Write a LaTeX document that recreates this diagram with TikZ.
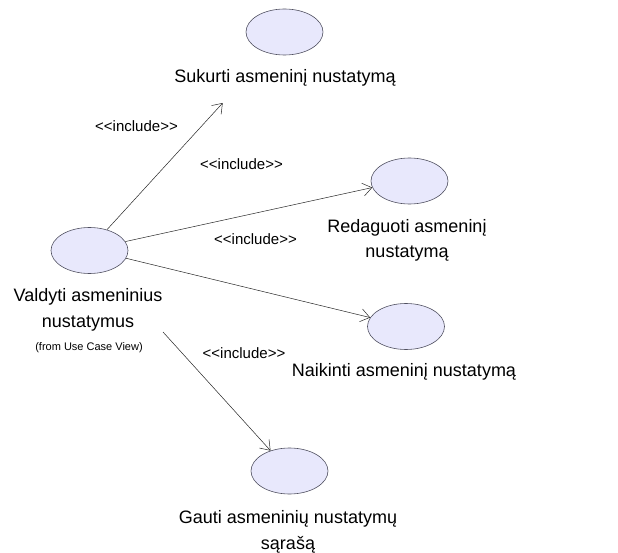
\documentclass[tikz,border=0pt]{standalone}
\usepackage{fontspec}
\setmainfont{Liberation Sans}
\usetikzlibrary{arrows.meta,shapes.geometric}
\definecolor{ucfill}{RGB}{232,232,252}
\definecolor{ucline}{RGB}{80,80,96}
\newcommand{\incl}{<\kern0pt<include>\kern0pt>}
\begin{document}
\begin{tikzpicture}[x=1pt,y=-1pt,
  usecase/.style={ellipse, draw=ucline, fill=ucfill, line width=0.6pt, minimum width=77pt, minimum height=46pt, inner sep=0pt},
  ucl/.style={anchor=base, inner sep=0pt, font=\fontsize{18}{20}\selectfont},
  small/.style={anchor=base, inner sep=0pt, font=\fontsize{11}{12}\selectfont},
  inc/.style={anchor=base, inner sep=0pt, font=\fontsize{15}{16}\selectfont},
  rel/.style={draw=black!85, line width=0.5pt, -{Straight Barb[length=9pt,width=13pt]}}]
\useasboundingbox (0,0) rectangle (618,553);
% use cases
\node[usecase] (s) at (284.5,32) {};
\node[ucl] (sl) at (285,83) {Sukurti asmeninį nustatymą};
\node[usecase] (r) at (409.5,181) {};
\node[ucl] (rl1) at (407,233) {Redaguoti asmeninį};
\node[ucl] (rl2) at (407,258) {nustatymą};
\node[usecase] (v) at (89.5,250.5) {};
\node[ucl] (vl1) at (88,301.5) {Valdyti asmeninius};
\node[ucl] (vl2) at (88,327) {nustatymus};
\node[small] (vl3) at (89,350) {(from Use Case View)};
\node[usecase] (n) at (406,326.5) {};
\node[ucl] (nl) at (404,376) {Naikinti asmeninį nustatymą};
\node[usecase] (g) at (289.5,471) {};
\node[ucl] (gl1) at (288,523) {Gauti asmeninių nustatymų};
\node[ucl] (gl2) at (288,549) {sąrašą};
% connector ends
\coordinate (sin) at (222.7,103);
\coordinate (vout) at (163,332);
% relations
\draw[rel] (v.50) -- (sin);
\draw[rel] (v.14) -- (r.190);
\draw[rel] (v.348) -- (n.166);
\draw[rel] (vout) -- (g.133);
% labels
\node[inc] (i1) at (136.5,131.5) {\incl};
\node[inc] (i2) at (241.5,170) {\incl};
\node[inc] (i3) at (255.5,244) {\incl};
\node[inc] (i4) at (244,358) {\incl};
\end{tikzpicture}
\end{document}
